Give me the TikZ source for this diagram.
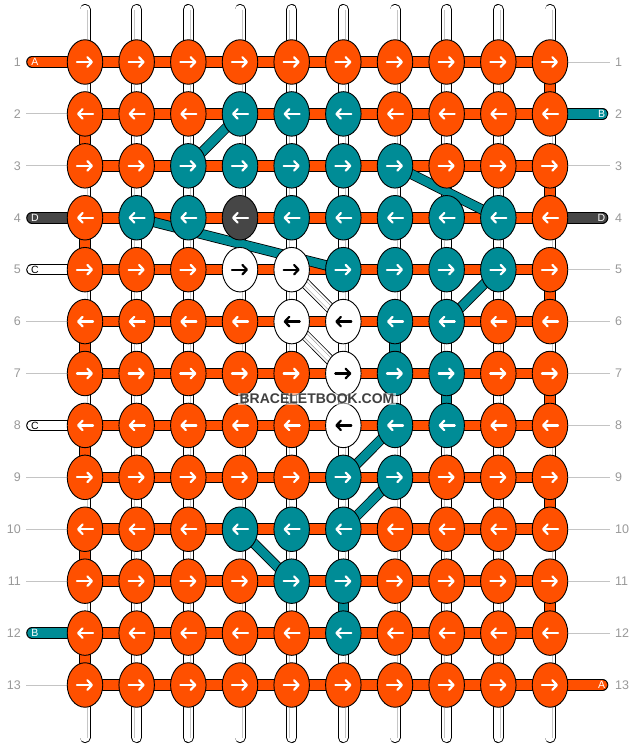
\documentclass[tikz,border=0pt]{standalone}
\usepackage{fontspec}
\setmainfont{Liberation Sans}
\usetikzlibrary{arrows.meta,shapes.geometric}
\definecolor{org}{HTML}{FF5000}
\definecolor{tea}{HTML}{008C96}
\definecolor{drk}{HTML}{464646}
\definecolor{numg}{HTML}{999999}
\definecolor{lng}{HTML}{C4C4C4}
\pgfdeclarelayer{bgl}
\pgfdeclarelayer{vert}
\pgfdeclarelayer{vcol}
\pgfdeclarelayer{horiz}
\pgfdeclarelayer{diag}
\pgfsetlayers{bgl,vert,vcol,horiz,diag,main}
\tikzset{
 knot/.style={ellipse, draw=black, line width=0.9, minimum width=35.5, minimum height=44.5, inner sep=0},
 knotO/.style={fill=org}, knotT/.style={fill=tea}, knotD/.style={fill=drk}, knotW/.style={fill=white},
 arrbase/.style={line width=2.2, -{Straight Barb[length=4.5pt, width=9.5pt, round]}, line cap=round},
 arrO/.style={arrbase, white}, arrT/.style={arrbase, white}, arrD/.style={arrbase, white}, arrW/.style={arrbase, black},
 warp/.style={line width=0.9, double=white, double distance=9.2, line cap=round},
 warpin/.style={draw=gray!45, line width=0.6, double=white, double distance=3.8},
 band/.style={line width=1, double distance=9.6},
 dband/.style={line width=0.8, double distance=8.6},
 numlab/.style={text=numg, font=\fontsize{12.5}{14}\selectfont, inner sep=0},
 strlab/.style={font=\fontsize{10.5}{12}\selectfont, inner sep=0},
 guide/.style={draw=lng, line width=1},
}
\begin{document}
\begin{tikzpicture}[x=1pt,y=-1pt]
\useasboundingbox (0,0) rectangle (636,748);
\begin{pgfonlayer}{bgl}
\fill[white] (0,0) rectangle (636,748);
\end{pgfonlayer}
% knots
\foreach \r/\row in {
 1/{O,O,O,O,O,O,O,O,O,O},
 2/{O,O,O,T,T,T,O,O,O,O},
 3/{O,O,T,T,T,T,T,O,O,O},
 4/{O,T,T,D,T,T,T,T,T,O},
 5/{O,O,O,W,W,T,T,T,T,O},
 6/{O,O,O,O,W,W,T,T,O,O},
 7/{O,O,O,O,O,W,T,T,O,O},
 8/{O,O,O,O,O,W,T,T,O,O},
 9/{O,O,O,O,O,T,T,O,O,O},
 10/{O,O,O,T,T,T,O,O,O,O},
 11/{O,O,O,O,T,T,O,O,O,O},
 12/{O,O,O,O,O,T,O,O,O,O},
 13/{O,O,O,O,O,O,O,O,O,O}} {
  \foreach \k [count=\c] in \row {
    \node[knot, knot\k] (k-\r-\c) at ({85+(\c-1)*51.667},{62+(\r-1)*51.917}) {};
    \ifodd\r
      \draw[arr\k] ([xshift=-8]k-\r-\c.center) -- ([xshift=8]k-\r-\c.center);
    \else
      \draw[arr\k] ([xshift=8]k-\r-\c.center) -- ([xshift=-8]k-\r-\c.center);
    \fi
  }
}
% vertical warp strands
\begin{pgfonlayer}{vert}
\foreach \c in {1,...,10} {
  \path (k-1-\c) ++(0,-52.5) coordinate (t-\c);
  \path (k-13-\c) ++(0,52.5) coordinate (b-\c);
  \draw[warp] (t-\c) -- (b-\c);
  \draw[warpin] (t-\c) -- (b-\c);
}
\end{pgfonlayer}
% coloured vertical pieces
\begin{pgfonlayer}{vcol}
\foreach \r/\c/\col in {1/10/org,2/1/org,3/10/org,4/1/org,5/10/org,6/1/org,7/10/org,8/1/org,9/10/org,10/1/org,11/10/org,12/1/org,6/7/tea,7/8/tea,11/6/tea} {
  \pgfmathtruncatemacro{\rn}{\r+1}
  \draw[band, double=\col] (k-\r-\c.center) -- (k-\rn-\c.center);
}
\end{pgfonlayer}
% horizontal strands, labels, guides
\begin{pgfonlayer}{horiz}
\foreach \r in {1,...,13} {
  \draw[band, double=org] (k-\r-1.center) -- (k-\r-10.center);
  \path (k-\r-1) ++(-64,0) node[numlab, anchor=east] (nl-\r) {\r};
  \path (k-\r-10) ++(65,0) node[numlab, anchor=west] (nr-\r) {\r};
}
\foreach \r/\col/\lab/\tc in {1/org/A/white, 4/drk/D/white, 5/white/C/black, 8/white/C/black, 12/tea/B/white} {
  \path (k-\r-1) ++(-53,0) coordinate (ls-\r);
  \draw[band, double=\col, line cap=round] (ls-\r) -- (k-\r-1.center);
  \node[strlab, text=\tc] (lt-\r) at ([xshift=3]ls-\r) {\lab};
}
\foreach \r/\col/\lab/\tc in {2/tea/B/white, 4/drk/D/white, 13/org/A/white} {
  \path (k-\r-10) ++(52.5,0) coordinate (rs-\r);
  \draw[band, double=\col, line cap=round] (k-\r-10.center) -- (rs-\r);
  \node[strlab, text=\tc] (rt-\r) at ([xshift=-1]rs-\r) {\lab};
}
\foreach \r in {2,3,6,7,9,10,11,13} {
  \path (k-\r-1) ++(-59,0) coordinate (gl-\r);
  \draw[guide] (gl-\r) -- (k-\r-1.west);
}
\foreach \r in {1,3,5,6,7,8,9,10,11,12} {
  \path (k-\r-10) ++(60,0) coordinate (gr-\r);
  \draw[guide] (k-\r-10.east) -- (gr-\r);
}
\end{pgfonlayer}
% diagonal strands
\begin{pgfonlayer}{diag}
\foreach \a/\b in {3-3/2-4, 3-7/4-9, 4-2/5-6, 5-9/6-8, 8-7/9-6, 9-7/10-6, 10-4/11-5}
  \draw[dband, double=tea] (k-\a.center) -- (k-\b.center);
\foreach \a/\b in {5-5/6-6, 6-5/7-6} {
  \draw[dband, double=white] (k-\a.center) -- (k-\b.center);
  \draw[warpin, draw=gray!75] (k-\a.center) -- (k-\b.center);
}
\end{pgfonlayer}
% watermark
\node[fill=white, fill opacity=0.55, text opacity=1, text=black!75,
      font=\bfseries\fontsize{14}{16}\selectfont, inner xsep=1.5, inner ysep=1.5] (wm) at (317,399) {BRACELETBOOK.COM};
\end{tikzpicture}
\end{document}
